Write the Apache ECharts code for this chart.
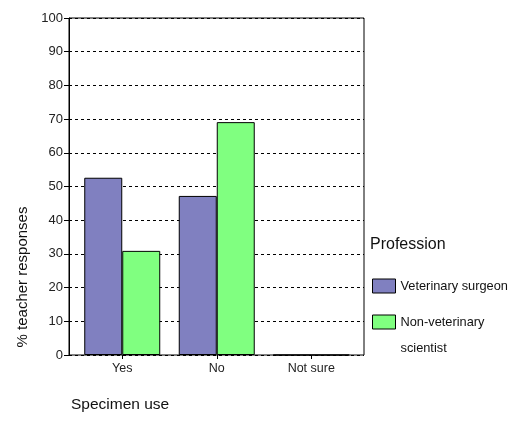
<!DOCTYPE html>
<html><head><meta charset="utf-8">
<script src="https://cdn.jsdelivr.net/npm/echarts@6/dist/echarts.min.js"></script>
<style>html,body{margin:0;padding:0;background:#fff}#c{width:511px;height:421px}</style>
</head><body><div id="c"></div>
<script>
const categories = ['Yes', 'No', 'Not sure'];
const seriesNames = ['Veterinary surgeon', 'Non-veterinary scientist'];
const vetSurgeon = [52.6, 47.2, 0];
const nonVetScientist = [30.9, 69.1, 0];
const yTicks = [0, 10, 20, 30, 40, 50, 60, 70, 80, 90, 100];
const colors = ['#8080C0', '#80FF80'];
const FONT = 'Liberation Sans';

const chart = echarts.init(document.getElementById('c'), null, {renderer: 'canvas'});
chart.setOption({
  animation: false,
  textStyle: {fontFamily: FONT},
  grid: [
    {left: 69, top: 18, width: 295, height: 337, show: true, borderColor: '#000', borderWidth: 1, backgroundColor: 'transparent'},
    {left: 75, top: 18, width: 283.5, height: 337}
  ],
  xAxis: [
    {gridIndex: 0, type: 'value', min: 0, max: 1, show: false},
    {gridIndex: 1, type: 'category', data: categories,
     axisLine: {show: false},
     axisTick: {show: true, alignWithLabel: true, length: 4, lineStyle: {color: '#000'}},
     axisLabel: {color: '#222', fontSize: 12.5, margin: 7, fontFamily: FONT}}
  ],
  yAxis: [
    {gridIndex: 0, type: 'value', min: 0, max: 100, interval: 10,
     axisLine: {show: true, lineStyle: {color: '#000'}},
     axisTick: {show: true, length: 5, lineStyle: {color: '#000'}},
     axisLabel: {color: '#222', fontSize: 13, margin: 6, fontFamily: FONT,
       formatter: v => yTicks.includes(v) ? String(v) : ''},
     splitLine: {show: true, lineStyle: {color: '#000', type: [3, 3], width: 1}}},
    {gridIndex: 1, type: 'value', min: 0, max: 100, show: false, splitLine: {show: false}}
  ],
  legend: {
    orient: 'vertical', left: 372, top: 273, padding: 0, itemWidth: 23, itemHeight: 14, itemGap: -16,
    icon: 'rect',
    data: seriesNames,
    formatter: n => n === 'Non-veterinary scientist' ? '\nNon-veterinary\nscientist' : n,
    textStyle: {fontSize: 12.8, color: '#111', fontFamily: FONT, lineHeight: 26},
    itemStyle: {borderColor: '#000', borderWidth: 1}
  },
  title: [
    {text: 'Profession', left: 365, top: 232, textStyle: {fontSize: 16, fontWeight: 'normal', color: '#111', fontFamily: FONT}},
    {text: 'Specimen use', left: 66, top: 392, textStyle: {fontSize: 15.5, fontWeight: 'normal', color: '#111', fontFamily: FONT}}
  ],
  graphic: [
    {type: 'text', x: 23, y: 277, rotation: Math.PI / 2,
     style: {text: '% teacher responses', fontSize: 15, fontFamily: FONT, fill: '#111', align: 'center', verticalAlign: 'middle'}}
  ],
  series: [
    {name: seriesNames[0], type: 'bar', xAxisIndex: 1, yAxisIndex: 1, data: vetSurgeon,
     barGap: '0%', barCategoryGap: '19.6%',
     itemStyle: {color: colors[0], borderColor: '#000', borderWidth: 1}},
    {name: seriesNames[1], type: 'bar', xAxisIndex: 1, yAxisIndex: 1, data: nonVetScientist,
     barGap: '0%', barCategoryGap: '19.6%',
     itemStyle: {color: colors[1], borderColor: '#000', borderWidth: 1}}
  ]
});
</script></body></html>
